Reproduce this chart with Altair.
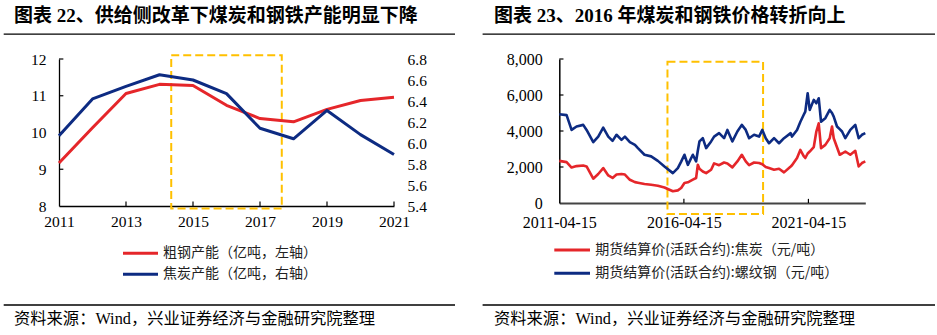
import altair as alt
import pandas as pd

# ---------------- left panel data (亿吨) ----------------
cap_years = [2011, 2012, 2013, 2014, 2015, 2016, 2017, 2018, 2019, 2020, 2021]
steel_capacity = [9.17, 10.13, 11.06, 11.31, 11.28, 10.74, 10.38, 10.29, 10.63, 10.87, 10.96]
coke_capacity = [6.07, 6.42, 6.54, 6.65, 6.60, 6.47, 6.14, 6.04, 6.31, 6.08, 5.89]

left_x_ticks = [2011, 2013, 2015, 2017, 2019, 2021]
left_y_ticks = [8, 9, 10, 11, 12]
left_y2_ticks = [5.4, 5.6, 5.8, 6.0, 6.2, 6.4, 6.6, 6.8]
box_left = {"x1": 2014.35, "x2": 2017.65, "y1": 7.93, "y2": 12.1}

# ---------------- right panel data (元/吨) ----------------
price_dates = [
    "2011-04-15", "2011-07-31", "2011-10-12", "2011-12-24", "2012-03-31", "2012-05-19",
    "2012-08-25", "2012-11-06", "2013-01-18", "2013-04-02", "2013-06-04", "2013-08-01",
    "2013-10-13", "2013-12-02", "2014-02-13", "2014-04-28", "2014-06-11", "2014-09-15",
    "2014-12-22", "2015-03-30", "2015-07-05", "2015-11-05", "2016-01-17", "2016-03-06",
    "2016-04-23", "2016-06-12", "2016-08-24", "2016-10-11", "2016-11-05", "2016-11-29",
    "2017-01-17", "2017-03-07", "2017-05-19", "2017-07-02", "2017-09-13", "2017-11-25",
    "2018-01-13", "2018-03-27", "2018-06-08", "2018-08-12", "2018-10-09", "2018-11-27",
    "2019-02-08", "2019-04-22", "2019-06-09", "2019-07-29", "2019-09-15", "2019-11-28",
    "2020-02-09", "2020-04-22", "2020-07-29", "2020-08-17", "2020-10-30", "2020-12-17",
    "2021-02-05", "2021-02-28", "2021-04-04", "2021-05-04", "2021-07-02", "2021-08-09",
    "2021-09-13", "2021-10-17", "2021-12-19", "2022-02-21", "2022-03-27", "2022-04-21",
    "2022-06-08", "2022-07-18", "2022-08-21", "2022-10-08", "2022-12-20", "2023-03-03",
    "2023-04-22", "2023-06-09", "2023-07-28",
]
rebar_price = [
    4930, 4880, 4060, 4250, 4340, 4060,
    3380, 3690, 4190, 3690, 3450, 3790,
    3510, 3690, 3380, 3230, 3050, 2680,
    2590, 2340, 2030, 1660, 1940, 2300,
    2680, 2120, 2680, 2310, 2900, 3420,
    3600, 3050, 3420, 3690, 3880, 3600,
    4060, 3420, 3970, 4340, 4060, 3600,
    3790, 3690, 4060, 3600, 3320, 3600,
    3320, 3600, 3880, 3690, 4060, 4500,
    4900, 5080, 6100, 5170, 5730, 5540,
    5820, 4520, 4710, 5170, 5000, 4800,
    4250, 4100, 3970, 3600, 4060, 4340,
    3600, 3790, 3880,
]
coke_price = [
    2340, 2270, 1970, 2050, 2080, 2030,
    1350, 1610, 1940, 1530, 1390, 1580,
    1610, 1580, 1290, 1160, 1130, 1060,
    1010, 960, 860, 650, 700, 830,
    1110, 1150, 1300, 1390, 2120, 1900,
    1750, 1660, 1850, 2200, 2100, 2250,
    2200, 1980, 2310, 2680, 2310, 2100,
    2250, 2220, 2150, 2000, 1940, 1850,
    1900, 1700, 2030, 2100, 2500, 2950,
    2600, 2500, 2750, 2860, 3100, 3970,
    4430, 3050, 3230, 3600, 4250, 3600,
    3100, 2680, 2750, 2860, 2680, 2900,
    2030, 2220, 2310,
]
price_y_ticks = [0, 2000, 4000, 6000, 8000]
price_x_tick_dates = ["2016-04-15", "2021-04-15"]
box_right = {"x1": "2015-08-18", "x2": "2019-06-20", "y1": -610, "y2": 7850}

# ---------------- texts ----------------
title_left = "图表 22、供给侧改革下煤炭和钢铁产能明显下降"
title_right = "图表 23、2016 年煤炭和钢铁价格转折向上"
legend_left = ["粗钢产能（亿吨，左轴）", "焦炭产能（亿吨，右轴）"]
legend_right = ["期货结算价(活跃合约):焦炭（元/吨）", "期货结算价(活跃合约):螺纹钢（元/吨）"]
source_text = "资料来源：Wind，兴业证券经济与金融研究院整理"

RED = "#E5262A"
BLUE = "#0D2B82"
BOX = "#FFC000"
SERIF = "Liberation Serif"
MIX = "Liberation Serif, Noto Sans CJK SC"
CJK = "Noto Sans CJK SC"


def text_mark(txt, x, y, size, font=MIX, weight="normal", color="#000"):
    return alt.Chart(pd.DataFrame({"t": [txt]})).mark_text(
        align="left", baseline="middle", font=font, fontSize=size,
        fontWeight=weight, color=color
    ).encode(x=alt.value(x), y=alt.value(y), text="t:N")


def hrule(x1, x2, y, color="#000", width=1.2):
    return alt.Chart(pd.DataFrame({"a": [0]})).mark_rule(
        color=color, strokeWidth=width
    ).encode(x=alt.value(x1), x2=alt.value(x2), y=alt.value(y))


def decorations(title, legend_labels, legend_y, text_x, rule_x1, rule_x2, sym_x1, sym_x2, text_dx):
    layers = [
        text_mark(title, text_x, -43.5, 19, weight="bold"),
        hrule(rule_x1, rule_x2, -24.8, width=1.3),
        hrule(rule_x1, rule_x2, 246, width=1.3),
        text_mark(source_text, text_x, 259.5, 16.3),
    ]
    for lab, col, yy in zip(legend_labels, [RED, BLUE], legend_y):
        layers.append(hrule(sym_x1, sym_x2, yy, color=col, width=3))
        layers.append(text_mark(lab, text_dx, yy, 14, font=CJK, color="#222"))
    return layers


axis_common = dict(title=None, grid=False, ticks=False, labelFont=SERIF, labelColor="#000")

# ---------------- left panel ----------------
df_cap = pd.DataFrame({"year": cap_years, "steel": steel_capacity, "coke": coke_capacity})
xL_scale = alt.Scale(domain=[2011, 2021], nice=False, zero=False)
yL_scale = alt.Scale(domain=[8, 12], nice=False, zero=False)
yR_scale = alt.Scale(domain=[5.4, 6.8], nice=False, zero=False)

xL_axis = alt.Axis(values=left_x_ticks, format="d", labelPadding=8, labelFlush=False,
                   labelFontSize=15.5, domainColor="#000", domainWidth=1.3,
                   labelOverlap=False, **axis_common)
yL_axis = alt.Axis(values=left_y_ticks, format="d", labelPadding=13, labelFontSize=15.5,
                   domainColor="#000", domainWidth=1.3, **axis_common)
yR_axis = alt.Axis(orient="right", values=left_y2_ticks, format=".1f", labelPadding=13,
                   labelFontSize=15.5, domain=False, **axis_common)

red_line = alt.Chart(df_cap).mark_line(color=RED, strokeWidth=3, strokeJoin="round").encode(
    x=alt.X("year:Q", scale=xL_scale, axis=xL_axis),
    y=alt.Y("steel:Q", scale=yL_scale, axis=yL_axis),
)
box_l = alt.Chart(pd.DataFrame([box_left])).mark_rect(
    filled=False, stroke=BOX, strokeWidth=2, strokeDash=[8, 4]
).encode(
    x=alt.X("x1:Q", scale=xL_scale, axis=xL_axis), x2="x2:Q",
    y=alt.Y("y1:Q", scale=yL_scale, axis=yL_axis), y2="y2:Q",
)
ytick_l = alt.Chart(pd.DataFrame({"v": left_y_ticks[1:], "x0": [2011] * 4, "x1": [2011.13] * 4})).mark_rule(
    color="#000", strokeWidth=1.2
).encode(x=alt.X("x0:Q", scale=xL_scale, axis=xL_axis), x2="x1:Q",
         y=alt.Y("v:Q", scale=yL_scale, axis=yL_axis))
xtick_l = alt.Chart(pd.DataFrame({"v": left_x_ticks[1:], "y0": [8] * 5, "y1": [8.12] * 5})).mark_rule(
    color="#000", strokeWidth=1.2
).encode(x=alt.X("v:Q", scale=xL_scale, axis=xL_axis),
         y=alt.Y("y0:Q", scale=yL_scale, axis=yL_axis), y2="y1:Q")

blue_line = alt.Chart(df_cap).mark_line(color=BLUE, strokeWidth=3, strokeJoin="round").encode(
    x=alt.X("year:Q", scale=xL_scale, axis=xL_axis),
    y=alt.Y("coke:Q", scale=yR_scale, axis=yR_axis),
)

left_inner = alt.layer(box_l, ytick_l, xtick_l, red_line)
left = alt.layer(
    left_inner, blue_line,
    *decorations(title_left, legend_left, [194.3, 215.3], -45, -55.3, 396, 64, 99, 104)
).resolve_scale(y="independent").properties(width=335, height=147)

# ---------------- right panel ----------------
df_price = pd.DataFrame({"date": price_dates, "coke": coke_price, "rebar": rebar_price})
xP_scale = alt.Scale(domain=[alt.DateTime(year=2011, month=4, date=15),
                             alt.DateTime(year=2023, month=7, date=28)], nice=False)
yP_scale = alt.Scale(domain=[0, 8000], nice=False, zero=False)

xP_axis = alt.Axis(values=[alt.DateTime(year=2011, month=4, date=15),
                           alt.DateTime(year=2016, month=4, date=15),
                           alt.DateTime(year=2021, month=4, date=15)],
                   format="%Y-%m-%d", labelPadding=11, labelFlush=False, labelFontSize=16,
                   labelOverlap=False, domainColor="#444", domainWidth=1.8, **axis_common)
yP_axis = alt.Axis(values=price_y_ticks, format=",.0f", labelPadding=17, labelFontSize=16,
                   domainColor="#000", domainWidth=1.5, **axis_common)

rebar_line = alt.Chart(df_price).mark_line(color=BLUE, strokeWidth=2.6, strokeJoin="round").encode(
    x=alt.X("date:T", scale=xP_scale, axis=xP_axis),
    y=alt.Y("rebar:Q", scale=yP_scale, axis=yP_axis),
)
coke_line = alt.Chart(df_price).mark_line(color=RED, strokeWidth=2.6, strokeJoin="round").encode(
    x=alt.X("date:T", scale=xP_scale, axis=xP_axis),
    y=alt.Y("coke:Q", scale=yP_scale, axis=yP_axis),
)
box_r = alt.Chart(pd.DataFrame([box_right])).mark_rect(
    filled=False, stroke=BOX, strokeWidth=2, strokeDash=[8, 4]
).encode(
    x=alt.X("x1:T", scale=xP_scale, axis=xP_axis), x2="x2:T",
    y=alt.Y("y1:Q", scale=yP_scale, axis=yP_axis), y2="y2:Q",
)
ytick_r = alt.Chart(pd.DataFrame({"v": price_y_ticks[1:], "x0": ["2011-04-15"] * 4,
                                  "x1": ["2011-06-15"] * 4})).mark_rule(
    color="#000", strokeWidth=1.2
).encode(x=alt.X("x0:T", scale=xP_scale, axis=xP_axis), x2="x1:T",
         y=alt.Y("v:Q", scale=yP_scale, axis=yP_axis))
xtick_r = alt.Chart(pd.DataFrame({"d": price_x_tick_dates, "y0": [0] * 2, "y1": [230] * 2})).mark_rule(
    color="#000", strokeWidth=1.2
).encode(x=alt.X("d:T", scale=xP_scale, axis=xP_axis),
         y=alt.Y("y0:Q", scale=yP_scale, axis=yP_axis), y2="y1:Q")

right = alt.layer(
    box_r, ytick_r, xtick_r, coke_line, rebar_line,
    *decorations(title_right, legend_right, [191, 214.3], -65.3, -76.7, 375.7, -5, 30.7, 36)
).properties(width=306, height=144)

chart = alt.hconcat(left, right, spacing=25.3).properties(
    padding={"left": 3, "top": 6, "right": 0, "bottom": 0}
).configure_view(strokeWidth=0)

chart.save("out.html", embed_options={"renderer": "svg", "actions": False})
